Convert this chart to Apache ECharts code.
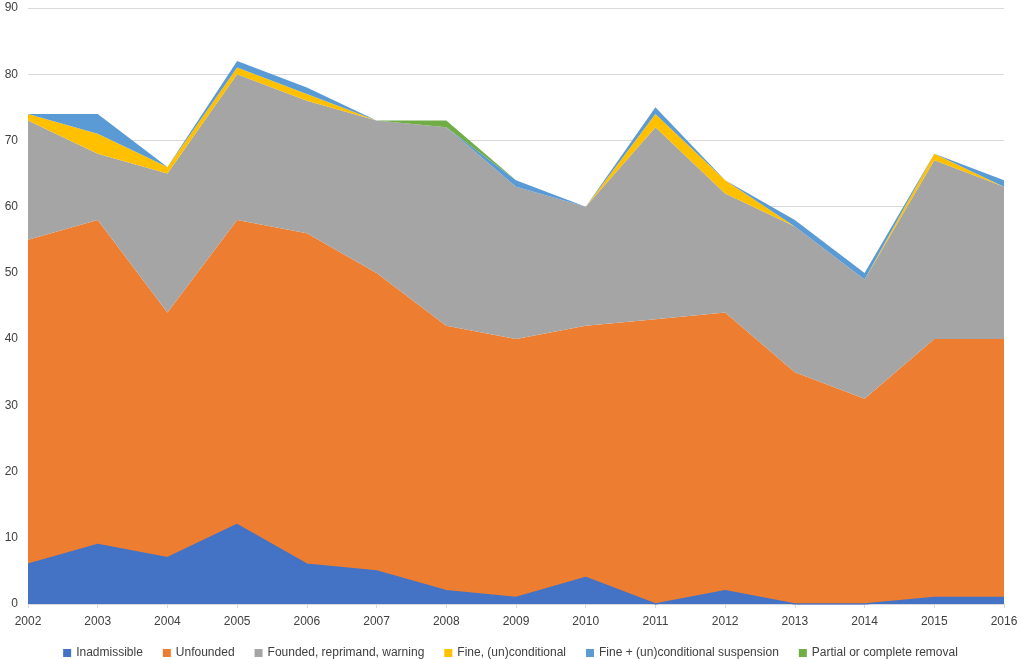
<!DOCTYPE html>
<html>
<head>
<meta charset="utf-8">
<script src="https://cdn.jsdelivr.net/npm/echarts@6/dist/echarts.min.js"></script>
<style>
  html, body { margin: 0; padding: 0; background: #fff; }
  #chart { width: 1021px; height: 659px; }
</style>
</head>
<body>
<div id="chart"></div>
<script>
// data
const years = ['2002','2003','2004','2005','2006','2007','2008','2009','2010','2011','2012','2013','2014','2015','2016'];
const inadmissible = [6, 9, 7, 12, 6, 5, 2, 1, 4, 0, 2, 0, 0, 1, 1];
const unfounded    = [49, 49, 37, 46, 50, 45, 40, 39, 38, 43, 42, 35, 31, 39, 39];
const founded      = [18, 10, 21, 22, 20, 23, 30, 23, 18, 29, 18, 22, 18, 27, 23];
const fine         = [1, 3, 1, 1, 1, 0, 0, 0, 0, 2, 2, 0, 0, 1, 0];
const suspension   = [0, 3, 0, 1, 1, 0, 0, 1, 0, 1, 0, 1, 1, 0, 1];
const removal      = [0, 0, 0, 0, 0, 0, 1, 0, 0, 0, 0, 0, 0, 0, 0];

const names = ['Inadmissible', 'Unfounded', 'Founded, reprimand, warning',
  'Fine, (un)conditional', 'Fine + (un)conditional suspension', 'Partial or complete removal'];
const colors = ['#4472C4', '#ED7D31', '#A5A5A5', '#FFC000', '#5B9BD5', '#70AD47'];
const values = [inadmissible, unfounded, founded, fine, suspension, removal];

const chart = echarts.init(document.getElementById('chart'));

chart.setOption({
  animation: false,
  color: colors,
  textStyle: { fontFamily: 'Liberation Sans, sans-serif' },
  grid: { left: 28, right: 17, top: 8, bottom: 55 },
  legend: {
    top: 642,
    left: 'center',
    itemWidth: 8,
    itemHeight: 8,
    itemGap: 20,
    icon: 'rect',
    textStyle: { color: '#404040', fontSize: 12 },
    data: names
  },
  xAxis: {
    type: 'category',
    data: years,
    boundaryGap: false,
    axisLine: { lineStyle: { color: '#d9d9d9' } },
    axisTick: { show: true, length: 4, lineStyle: { color: '#d9d9d9' } },
    axisLabel: { color: '#404040', fontSize: 12, margin: 12,
      showMinLabel: true, showMaxLabel: true, interval: 0 }
  },
  yAxis: {
    type: 'value',
    min: 0,
    max: 90,
    interval: 10,
    axisLine: { show: false },
    axisTick: { show: false },
    axisLabel: { color: '#404040', fontSize: 12, margin: 10 },
    splitLine: { lineStyle: { color: '#d9d9d9', width: 1 } }
  },
  series: names.map((n, i) => ({
    name: n,
    type: 'line',
    stack: 'total',
    data: values[i],
    symbol: 'none',
    z: i === 0 ? 3 : 2,
    lineStyle: i === 0 ? { width: 1.5, color: colors[0] } : { width: 0 },
    areaStyle: { color: colors[i], opacity: 1 }
  }))
});
</script>
</body>
</html>
